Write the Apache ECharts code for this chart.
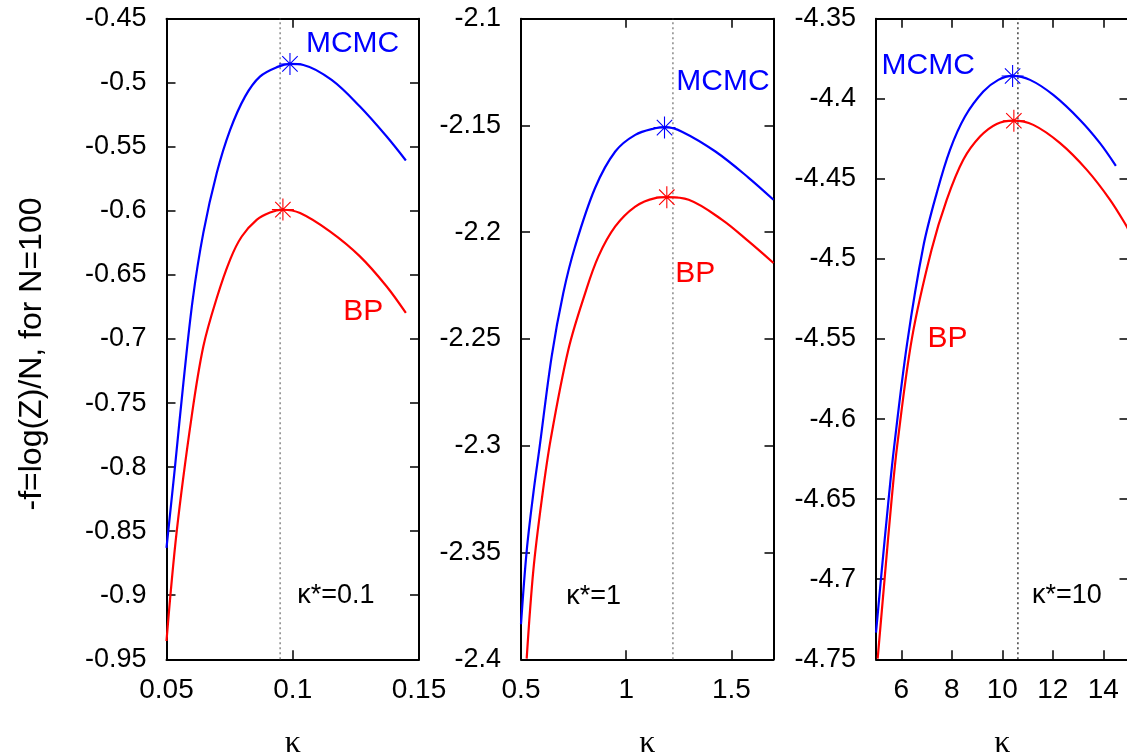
<!DOCTYPE html>
<html>
<head>
<meta charset="utf-8">
<script src="https://cdn.jsdelivr.net/npm/echarts@6/dist/echarts.min.js"></script>
<style>
html,body{margin:0;padding:0;background:#fff;}
#chart{width:1127px;height:752px;}
</style>
</head>
<body>
<div id="chart"></div>
<script>
// ---------- Data ----------
// Panel 1: kappa* = 0.1
const p1KappaMCMC = [0.050,0.0534,0.0567,0.0604,0.0646,0.0699,0.0752,0.0811,0.0870,0.0943,0.0989,0.1042,0.1154,0.1266,0.1372,0.1448];
const p1FMCMC     = [-0.863,-0.799,-0.734,-0.669,-0.617,-0.5705,-0.5368,-0.5108,-0.4952,-0.4874,-0.4853,-0.4861,-0.4978,-0.5186,-0.542,-0.5607];
const p1KappaBP   = [0.050,0.054,0.060,0.0646,0.0699,0.0752,0.0798,0.0857,0.091,0.096,0.1029,0.1147,0.1266,0.1372,0.1448];
const p1FBP       = [-0.9357,-0.851,-0.760,-0.7057,-0.668,-0.638,-0.620,-0.607,-0.6012,-0.5991,-0.6017,-0.616,-0.6355,-0.659,-0.6797];
const p1StarMCMC  = [0.0989,-0.4853];
const p1StarBP    = [0.0961,-0.599];
const p1KappaStar = 0.095;

// Panel 2: kappa* = 1
const p2KappaMCMC = [0.5,0.527,0.559,0.587,0.646,0.701,0.757,0.852,0.948,1.043,1.138,1.186,1.265,1.424,1.582,1.70];
const p2FMCMC     = [-2.3836,-2.3493,-2.322,-2.3017,-2.258,-2.2285,-2.2067,-2.1793,-2.1622,-2.1544,-2.1513,-2.1508,-2.1529,-2.1622,-2.1745,-2.1848];
const p2KappaBP   = [0.527,0.559,0.599,0.641,0.725,0.805,0.868,0.948,1.043,1.138,1.193,1.297,1.456,1.582,1.70];
const p2FBP       = [-2.3997,-2.358,-2.325,-2.297,-2.255,-2.2285,-2.2113,-2.1973,-2.188,-2.184,-2.1836,-2.1848,-2.1942,-2.2043,-2.2144];
const p2StarMCMC  = [1.182,-2.151];
const p2StarBP    = [1.193,-2.1836];
const p2KappaStar = 1.222;

// Panel 3: kappa* = 10
const p3KappaMCMC = [5.0,5.225,5.487,5.713,6.23,6.874,7.404,7.931,8.525,9.25,9.844,10.40,11.10,12.02,13.08,13.87,14.5];
const p3FMCMC     = [-4.7334,-4.695,-4.652,-4.618,-4.553,-4.4922,-4.4589,-4.4319,-4.4111,-4.3955,-4.3882,-4.3857,-4.3882,-4.3976,-4.4132,-4.4277,-4.4419];
const p3KappaBP   = [5.066,5.356,5.62,5.844,6.43,7.2,7.8,8.457,9.12,9.78,10.45,11.23,12.29,13.35,14.27,14.93,15.0];
const p3FBP       = [-4.7496,-4.697,-4.650,-4.616,-4.549,-4.4943,-4.4631,-4.4381,-4.4236,-4.4157,-4.4136,-4.4163,-4.4277,-4.4444,-4.4631,-4.4797,-4.482];
const p3StarMCMC  = [10.41,-4.3858];
const p3StarBP    = [10.46,-4.4137];
const p3KappaStar = 10.62;

// Axis ranges and tick labels
const xRanges = [[0.05,0.15],[0.5,1.7],[5,15]];
const yRanges = [[-0.95,-0.45],[-2.4,-2.1],[-4.75,-4.35]];
const xTickValues = [[0.05,0.1,0.15],[0.5,1,1.5],[6,8,10,12,14]];
const yInterval = 0.05;

// Text annotations [kappa, f]
const annotTexts = [['MCMC','BP','κ*=0.1'],['MCMC','BP','κ*=1'],['MCMC','BP','κ*=10']];
const annotPos = [
  [[0.1239,-0.4697],[0.1281,-0.679],[0.1173,-0.9009]],
  [[1.462,-2.1296],[1.331,-2.2195],[0.848,-2.371]],
  [[7.09,-4.3796],[7.85,-4.5504],[12.58,-4.7107]]
];
const yTitle = '-f=log(Z)/N, for N=100';
const xTitle = 'κ';

// ---------- Build option ----------
const zip = (a,b)=>a.map((v,i)=>[v,b[i]]);
const panels = [
  {km:p1KappaMCMC,fm:p1FMCMC,kb:p1KappaBP,fb:p1FBP,sm:p1StarMCMC,sb:p1StarBP,ks:p1KappaStar,dotColor:'#777'},
  {km:p2KappaMCMC,fm:p2FMCMC,kb:p2KappaBP,fb:p2FBP,sm:p2StarMCMC,sb:p2StarBP,ks:p2KappaStar,dotColor:'#777'},
  {km:p3KappaMCMC,fm:p3FMCMC,kb:p3KappaBP,fb:p3FBP,sm:p3StarMCMC,sb:p3StarBP,ks:p3KappaStar,dotColor:'#222'}
];
const gridLefts = [166.5, 521, 876];
const FONT = 'Liberation Sans';
const starPath = 'path://M10,0 L10,20 M0,10 L20,10 M3,3 L17,17 M3,17 L17,3';

const grids=[], xAxes=[], yAxes=[], series=[];
panels.forEach((p,i)=>{
  grids.push({left:gridLefts[i], top:18.7, width:252.5, height:640.6, containLabel:false, outerBoundsMode:'none'});
  const lineStyle={color:'#000',width:2};
  const tickStyle={color:'#000',width:1.5};
  xAxes.push({
    gridIndex:i, type:'value', position:'bottom', min:xRanges[i][0], max:xRanges[i][1],
    axisLine:{show:true,onZero:false,lineStyle},
    axisTick:{show:true,inside:true,length:9,lineStyle:tickStyle,customValues:xTickValues[i]},
    axisLabel:{show:true,customValues:xTickValues[i],fontFamily:FONT,fontSize:28,color:'#000',margin:17},
    splitLine:{show:false},
    name:xTitle, nameLocation:'middle', nameGap:68,
    nameTextStyle:{fontFamily:'Liberation Serif',fontSize:32,color:'#000'}
  });
  xAxes.push({
    gridIndex:i, type:'value', position:'top', min:xRanges[i][0], max:xRanges[i][1],
    axisLine:{show:true,onZero:false,lineStyle},
    axisTick:{show:true,inside:true,length:9,lineStyle:tickStyle,customValues:xTickValues[i]},
    axisLabel:{show:false}, splitLine:{show:false}
  });
  const yLeft = {
    gridIndex:i, type:'value', position:'left', min:yRanges[i][0], max:yRanges[i][1], interval:yInterval,
    axisLine:{show:true,onZero:false,lineStyle},
    axisTick:{show:true,inside:true,length:9,lineStyle:tickStyle},
    axisLabel:{show:true,fontFamily:FONT,fontSize:27,color:'#000',margin:20,showMinLabel:true,showMaxLabel:true},
    splitLine:{show:false}
  };
  if(i===0){
    yLeft.name=yTitle; yLeft.nameLocation='middle'; yLeft.nameGap=118; yLeft.nameRotate=90;
    yLeft.nameTextStyle={fontFamily:FONT,fontSize:32,color:'#000',padding:[0,30,0,0]};
  }
  yAxes.push(yLeft);
  yAxes.push({
    gridIndex:i, type:'value', position:'right', min:yRanges[i][0], max:yRanges[i][1], interval:yInterval,
    axisLine:{show:true,onZero:false,lineStyle},
    axisTick:{show:true,inside:true,length:9,lineStyle:tickStyle},
    axisLabel:{show:false}, splitLine:{show:false}
  });
  const xi=2*i, yi=2*i;
  // dotted kappa* line
  series.push({type:'line', xAxisIndex:xi, yAxisIndex:yi, data:[[p.ks,yRanges[i][0]],[p.ks,yRanges[i][1]]],
    symbol:'none', lineStyle:{color:p.dotColor,width:1.3,type:[2,3]}, silent:true, z:1});
  series.push({type:'line', name:'MCMC', xAxisIndex:xi, yAxisIndex:yi, data:zip(p.km,p.fm),
    symbol:'none', smooth:0.35, lineStyle:{color:'#0000ff',width:2.2}, silent:true, z:3});
  series.push({type:'line', name:'BP', xAxisIndex:xi, yAxisIndex:yi, data:zip(p.kb,p.fb),
    symbol:'none', smooth:0.35, lineStyle:{color:'#ff0000',width:2.2}, silent:true, z:3});
  series.push({type:'scatter', xAxisIndex:xi, yAxisIndex:yi, data:[p.sm], symbol:starPath, symbolSize:22,
    itemStyle:{color:'rgba(0,0,0,0)',borderColor:'#0000ff',borderWidth:1.1,opacity:1}, silent:true, z:4});
  series.push({type:'scatter', xAxisIndex:xi, yAxisIndex:yi, data:[p.sb], symbol:starPath, symbolSize:22,
    itemStyle:{color:'rgba(0,0,0,0)',borderColor:'#ff0000',borderWidth:1.1,opacity:1}, silent:true, z:4});
  const colors=['#0000ff','#ff0000','#000000'];
  const sizes=[30,30,27];
  annotTexts[i].forEach((t,j)=>{
    series.push({type:'scatter', xAxisIndex:xi, yAxisIndex:yi, data:[annotPos[i][j]], symbolSize:1,
      itemStyle:{color:'rgba(0,0,0,0)',opacity:1}, silent:true, z:5,
      label:{show:true, position:[0,0], align:'center', verticalAlign:'middle', formatter:t,
        fontFamily:FONT, fontSize:sizes[j], color:colors[j], opacity:1, textBorderWidth:0}});
  });
});

const chart = echarts.init(document.getElementById('chart'), null, {renderer:'canvas'});
chart.setOption({
  backgroundColor:'#fff',
  animation:false,
  grid:grids, xAxis:xAxes, yAxis:yAxes, series:series
});
</script>
</body>
</html>
